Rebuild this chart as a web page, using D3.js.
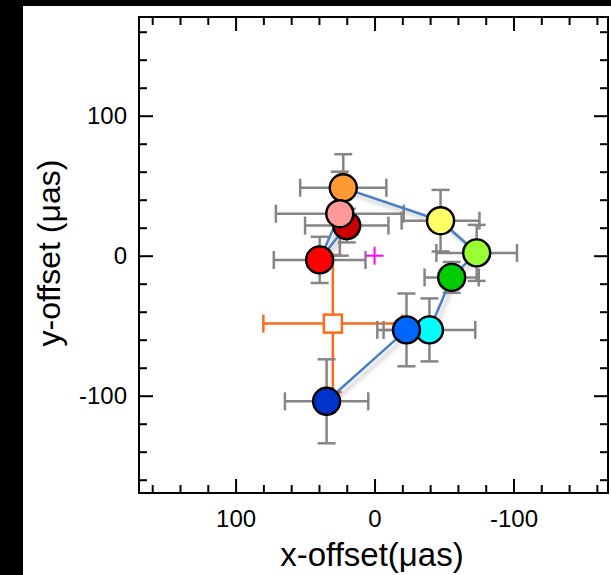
<!DOCTYPE html>
<html>
<head>
<meta charset="utf-8">
<script src="https://cdn.jsdelivr.net/npm/d3@7"></script>
<style>
  body { margin: 0; background: #fff; }
  svg { display: block; font-family: "Liberation Sans", Arial, sans-serif; }
</style>
</head>
<body>
<div id="chart"></div>
<script>
// epochs, in drawing order
const names = ["darkred", "red", "orange", "pink", "green", "lightgreen", "yellow", "cyan", "blue", "darkblue"];
const colors = ["#cc0000", "#ff0000", "#ff9933", "#ff9999", "#00cc00", "#99ff33", "#ffff66", "#00ffff", "#0066ff", "#0033cc"];
const xOffset = [20, 39.5, 22.5, 25, -55.5, -73.5, -47.5, -39.5, -23, 34.5];
const yOffset = [21.5, -3, 48.5, 30, -15.5, 2, 25, -53, -53, -104];
const xErr = [30, 33, 31, 46, 19.5, 29, 28, 33, 21, 30];
const yErr = [12, 16.5, 24, 30, 11, 20, 22, 22.5, 26, 30];

// order of the connecting line
const pathOrder = ["darkred", "red", "pink", "orange", "yellow", "lightgreen", "green", "cyan", "blue", "darkblue"];

// mean position (open square)
const meanX = [30];
const meanY = [-48.5];
const meanXErr = [50];
const meanYErr = [49];

const majorTicks = [100, 0, -100];
const minorTicks = d3.range(-160, 161, 20).filter((d) => d % 100 !== 0);

const width = 611;
const height = 575;
const margin = { left: 139, right: 3, top: 17, bottom: 82 };

const svg = d3
  .select("#chart")
  .append("svg")
  .attr("width", width)
  .attr("height", height);

// black strips left and top
svg.append("rect").attr("x", 0).attr("y", 0).attr("width", 23).attr("height", height).attr("fill", "#000");
svg.append("rect").attr("x", 0).attr("y", 0).attr("width", width).attr("height", 6).attr("fill", "#000");

const x = d3.scaleLinear().domain([169.5, -168]).range([margin.left, width - margin.right]);
const y = d3.scaleLinear().domain([-169.5, 170.5]).range([height - margin.bottom, margin.top]);

const defs = svg.append("defs");
defs
  .append("filter")
  .attr("id", "shadow")
  .attr("x", "-20%")
  .attr("y", "-20%")
  .attr("width", "140%")
  .attr("height", "140%")
  .append("feDropShadow")
  .attr("dx", 3)
  .attr("dy", 4)
  .attr("stdDeviation", 2)
  .attr("flood-color", "#777")
  .attr("flood-opacity", 0.45);

// axes: inward ticks on all four sides
function addAxis(axisFn, transform, values, size, labels) {
  const g = svg
    .append("g")
    .attr("transform", transform)
    .call(
      axisFn
        .tickValues(values)
        .tickSize(-size)
        .tickSizeOuter(0)
        .tickPadding(labels ? 12 : 0)
        .tickFormat(labels ? (d) => String(d) : "")
    );
  g.select(".domain").remove();
  g.selectAll(".tick line").attr("stroke", "#000").attr("stroke-width", 2);
  g.selectAll(".tick text").attr("font-size", 24).attr("fill", "#000");
  return g;
}

const bottomY = height - margin.bottom;
const rightX = width - margin.right;

const gb = addAxis(d3.axisBottom(x), `translate(0,${bottomY})`, majorTicks, 14, true);
gb.selectAll(".tick text").attr("y", 17);
addAxis(d3.axisBottom(x), `translate(0,${bottomY})`, minorTicks, 8, false);
addAxis(d3.axisTop(x), `translate(0,${margin.top})`, majorTicks, 14, false);
addAxis(d3.axisTop(x), `translate(0,${margin.top})`, minorTicks, 8, false);
const gl = addAxis(d3.axisLeft(y), `translate(${margin.left},0)`, majorTicks, 14, true);
gl.selectAll(".tick text").attr("x", -12);
addAxis(d3.axisLeft(y), `translate(${margin.left},0)`, minorTicks, 8, false);
addAxis(d3.axisRight(y), `translate(${rightX},0)`, majorTicks, 14, false);
addAxis(d3.axisRight(y), `translate(${rightX},0)`, minorTicks, 8, false);

// frame
svg
  .append("rect")
  .attr("x", margin.left)
  .attr("y", margin.top)
  .attr("width", rightX - margin.left)
  .attr("height", bottomY - margin.top)
  .attr("fill", "none")
  .attr("stroke", "#000")
  .attr("stroke-width", 2);

// axis titles
svg
  .append("text")
  .attr("x", 372)
  .attr("y", 566)
  .attr("text-anchor", "middle")
  .attr("font-size", 33)
  .text("x-offset(μas)");

svg
  .append("text")
  .attr("transform", "translate(60,253) rotate(-90)")
  .attr("text-anchor", "middle")
  .attr("font-size", 32)
  .text("y-offset (μas)");

const points = names.map((n, i) => ({
  name: n,
  color: colors[i],
  x: xOffset[i],
  y: yOffset[i],
  xe: xErr[i],
  ye: yErr[i],
}));

const cap = 9;

function errorBars(g, d, color, widthPx) {
  const cx = x(d.x);
  const cy = y(d.y);
  const lines = [
    [x(d.x + d.xe), cy, x(d.x - d.xe), cy],
    [cx, y(d.y + d.ye), cx, y(d.y - d.ye)],
    [x(d.x + d.xe), cy - cap, x(d.x + d.xe), cy + cap],
    [x(d.x - d.xe), cy - cap, x(d.x - d.xe), cy + cap],
    [cx - cap, y(d.y + d.ye), cx + cap, y(d.y + d.ye)],
    [cx - cap, y(d.y - d.ye), cx + cap, y(d.y - d.ye)],
  ];
  g.selectAll(null)
    .data(lines)
    .enter()
    .append("line")
    .attr("x1", (l) => l[0])
    .attr("y1", (l) => l[1])
    .attr("x2", (l) => l[2])
    .attr("y2", (l) => l[3])
    .attr("stroke", color)
    .attr("stroke-width", widthPx);
}

// mean position error bars
const meanPts = meanX.map((v, i) => ({ x: v, y: meanY[i], xe: meanXErr[i], ye: meanYErr[i] }));
const gMean = svg.append("g");
meanPts.forEach((d) => errorBars(gMean, d, "#fa6b1b", 2.5));
gMean
  .selectAll("rect")
  .data(meanPts)
  .enter()
  .append("rect")
  .attr("x", (d) => x(d.x) - 9)
  .attr("y", (d) => y(d.y) - 9)
  .attr("width", 18)
  .attr("height", 18)
  .attr("fill", "#fff")
  .attr("stroke", "#fa6b1b")
  .attr("stroke-width", 2.5);

// grey error bars
const gErr = svg.append("g");
points.forEach((d) => errorBars(gErr, d, "#858585", 2.5));

// connecting line
const byName = new Map(points.map((d) => [d.name, d]));
const line = d3
  .line()
  .x((d) => x(d.x))
  .y((d) => y(d.y));

svg
  .append("path")
  .datum(pathOrder.map((n) => byName.get(n)))
  .attr("d", line)
  .attr("fill", "none")
  .attr("stroke", "#4a80c4")
  .attr("stroke-width", 2.5)
  .attr("filter", "url(#shadow)");

// origin marker
const plus = svg.append("g").attr("stroke", "#ff00ff").attr("stroke-width", 2);
plus.append("line").attr("x1", x(0) - 9).attr("x2", x(0) + 9).attr("y1", y(0)).attr("y2", y(0));
plus.append("line").attr("x1", x(0)).attr("x2", x(0)).attr("y1", y(0) - 9).attr("y2", y(0) + 9);

// epochs
svg
  .append("g")
  .selectAll("circle")
  .data(points)
  .enter()
  .append("circle")
  .attr("cx", (d) => x(d.x))
  .attr("cy", (d) => y(d.y))
  .attr("r", 13.5)
  .attr("fill", (d) => d.color)
  .attr("stroke", "#000")
  .attr("stroke-width", 2.4);
</script>
</body>
</html>
